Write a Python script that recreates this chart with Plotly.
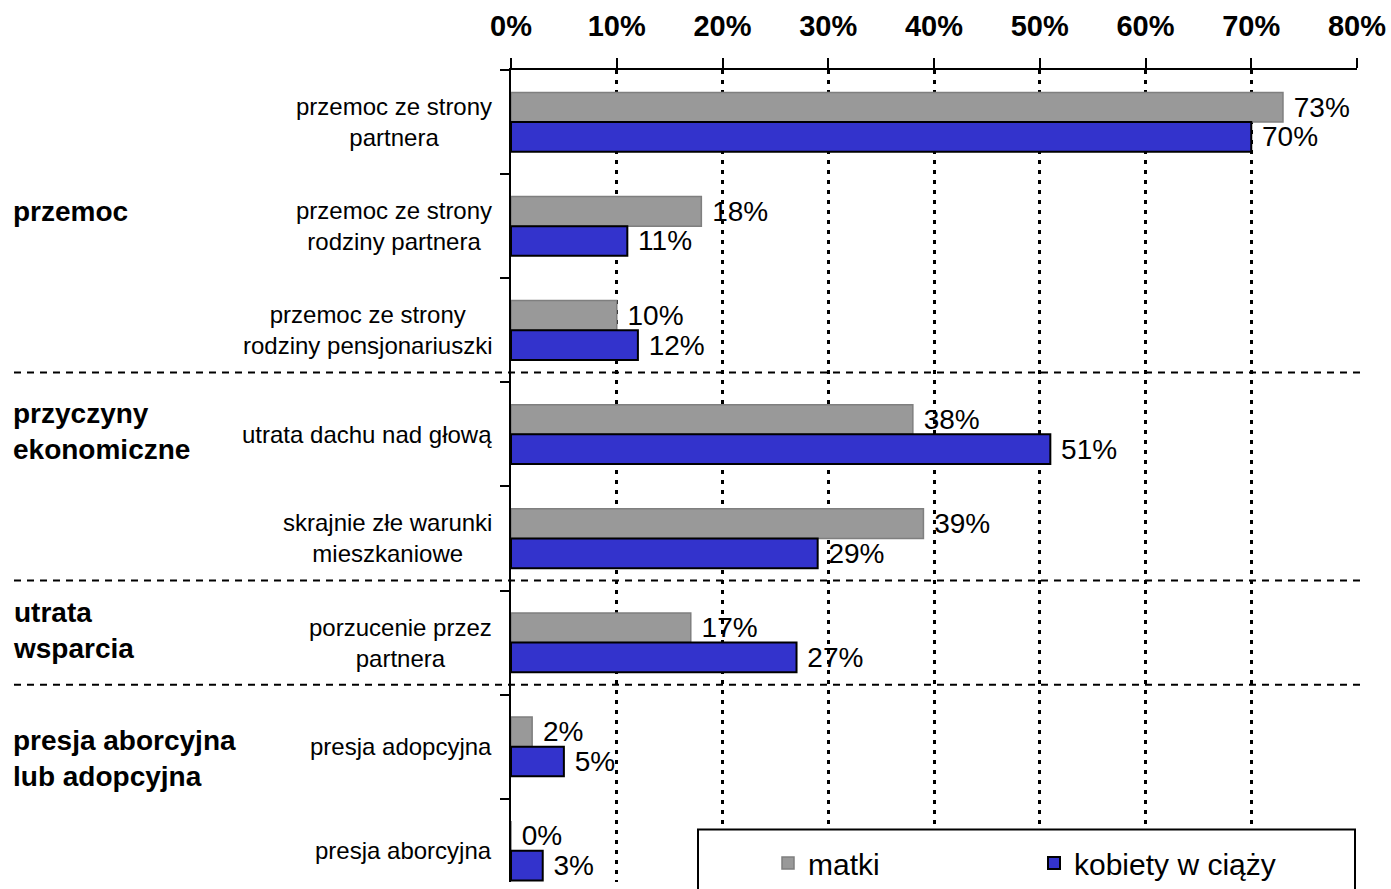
import plotly.graph_objects as go

# ---------------- data ----------------
categories = [
    "przemoc ze strony<br>partnera",
    "przemoc ze strony<br>rodziny partnera",
    "przemoc ze strony<br>rodziny pensjonariuszki",
    "utrata dachu nad głową",
    "skrajnie złe warunki<br>mieszkaniowe",
    "porzucenie przez<br>partnera",
    "presja adopcyjna",
    "presja aborcyjna",
]
matki = [0.73, 0.18, 0.10, 0.38, 0.39, 0.17, 0.02, 0.00]
kobiety_w_ciazy = [0.70, 0.11, 0.12, 0.51, 0.29, 0.27, 0.05, 0.03]
series_names = ["matki", "kobiety w ciąży"]

group_labels = ["przemoc", "przyczyny<br>ekonomiczne", "utrata<br>wsparcia",
                "presja aborcyjna<br>lub adopcyjna"]
group_label_y = [0.86, 2.97, 4.88, 6.11]       # label vertical positions (category units)
group_last_index = [2, 4, 5]                    # separators after these categories

x_ticks = [0, 0.1, 0.2, 0.3, 0.4, 0.5, 0.6, 0.7, 0.8]
x_tick_labels = ["0%", "10%", "20%", "30%", "40%", "50%", "60%", "70%", "80%"]

# ---------------- style ----------------
FONT = "Liberation Sans, Arial, Helvetica, sans-serif"
GRAY = "#999999"
BLUE = "#3333CC"
W, H = 1391, 889
PLOT_L, PLOT_R, PLOT_T = 511, 1357, 70   # page pixel positions of the plot area
ML, MT, MR, MB = PLOT_L, PLOT_T, W - PLOT_R, 0
PW = W - ML - MR
PH = H - MT - MB

def px_to_paper_x(px):
    return (px - PLOT_L) / PW

def px_to_paper_y(py):
    return (H - MB - py) / PH

fig = go.Figure()
fig.add_trace(go.Bar(
    y=list(range(len(categories))), x=matki, orientation="h", name=series_names[0],
    marker=dict(color=GRAY, line=dict(color="#7f7f7f", width=1.5)),
    texttemplate="\u00a0%{x:.0%}", textposition="outside",
    textfont=dict(family=FONT, size=28, color="black"),
    cliponaxis=False, constraintext="none", hoverinfo="skip",
))
fig.add_trace(go.Bar(
    y=list(range(len(categories))), x=kobiety_w_ciazy, orientation="h", name=series_names[1],
    marker=dict(color=BLUE, line=dict(color="black", width=2)),
    texttemplate="\u00a0%{x:.0%}", textposition="outside",
    textfont=dict(family=FONT, size=28, color="black"),
    cliponaxis=False, constraintext="none", hoverinfo="skip",
))

annotations = []
# category labels (centered multi-line, right-anchored)
for i, c in enumerate(categories):
    annotations.append(dict(
        x=px_to_paper_x(494), xref="paper", y=i, yref="y",
        text=c, showarrow=False, xanchor="right", yanchor="middle", align="center",
        font=dict(family=FONT, size=24, color="black"),
    ))
# group labels
for lab, gy in zip(group_labels, group_label_y):
    annotations.append(dict(
        x=px_to_paper_x(11), xref="paper", y=gy, yref="y",
        text="<b>" + lab + "</b>", showarrow=False, xanchor="left", yanchor="middle",
        align="left", font=dict(family=FONT, size=28, color="black"),
    ))

shapes = []
for gi in group_last_index:
    yy = gi + 0.5 - 0.095
    shapes.append(dict(
        type="line", xref="paper", yref="y",
        x0=px_to_paper_x(14), x1=px_to_paper_x(1366), y0=yy, y1=yy,
        line=dict(color="black", width=2, dash="7px,6px"), layer="above",
    ))
# legend box
shapes.append(dict(
    type="rect", xref="paper", yref="paper",
    x0=px_to_paper_x(698), x1=px_to_paper_x(1355),
    y0=px_to_paper_y(905), y1=px_to_paper_y(836),
    line=dict(color="black", width=2), fillcolor="white", layer="above",
))

fig.update_layout(
    width=W, height=H,
    margin=dict(l=ML, r=MR, t=MT, b=MB, pad=0),
    paper_bgcolor="white", plot_bgcolor="white",
    barmode="group", bargap=0.43, bargroupgap=0,
    font=dict(family=FONT, color="black"),
    xaxis=dict(
        side="top", range=[0, 0.8], tickvals=x_ticks, ticktext=x_tick_labels,
        tickfont=dict(family=FONT, size=29, color="black", weight="bold"),
        ticks="outside", ticklen=10, tickwidth=2, tickcolor="black",
        ticklabelstandoff=10,
        showline=True, linecolor="black", linewidth=2,
        showgrid=True, gridcolor="black", gridwidth=2.5, griddash="4px,6px",
        zeroline=False, fixedrange=True,
    ),
    yaxis=dict(
        type="linear", range=[7.3, -0.5], tickvals=[i - 0.5 for i in range(len(categories) + 1)],
        showticklabels=False, ticks="outside", ticklen=9, tickwidth=2, tickcolor="black",
        showline=True, linecolor="black", linewidth=2, showgrid=False, zeroline=False,
        fixedrange=True,
    ),
    showlegend=True,
    legend=dict(
        orientation="h", x=px_to_paper_x(768), xanchor="left",
        y=px_to_paper_y(844), yanchor="top",
        font=dict(family=FONT, size=30, color="black"),
        entrywidth=221, entrywidthmode="pixels",
        bgcolor="rgba(0,0,0,0)", borderwidth=0, traceorder="normal",
    ),
    annotations=annotations,
    shapes=shapes,
)

fig.write_html(
    "out.html",
    config={"displayModeBar": False},
    post_script="document.body.style.margin='0';document.body.style.overflow='hidden';",
)
